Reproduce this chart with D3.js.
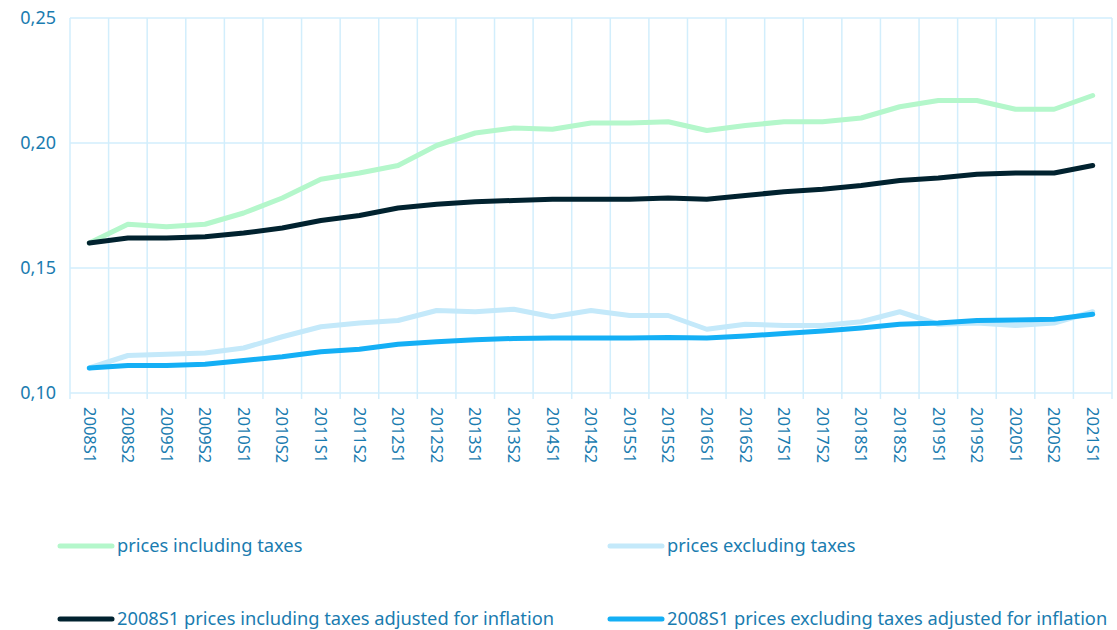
<!DOCTYPE html>
<html>
<head>
<meta charset="utf-8">
<script src="https://cdn.jsdelivr.net/npm/d3@7"></script>
<style>
  body { margin: 0; background: #fff; }
  svg { display: block; }
  text { font-family: "Noto Sans", sans-serif; fill: #1a7cb0; }
</style>
</head>
<body>
<svg id="chart" width="1117" height="630"></svg>
<script>
const categories = ["2008S1","2008S2","2009S1","2009S2","2010S1","2010S2","2011S1","2011S2","2012S1","2012S2","2013S1","2013S2","2014S1","2014S2","2015S1","2015S2","2016S1","2016S2","2017S1","2017S2","2018S1","2018S2","2019S1","2019S2","2020S1","2020S2","2021S1"];

const pricesInclTaxes = [0.160,0.1675,0.1665,0.1675,0.172,0.178,0.1855,0.188,0.191,0.199,0.204,0.206,0.2055,0.208,0.208,0.2085,0.205,0.207,0.2085,0.2085,0.210,0.2145,0.217,0.217,0.2135,0.2135,0.219];
const pricesExclTaxes = [0.110,0.115,0.1155,0.116,0.118,0.1225,0.1265,0.128,0.129,0.133,0.1325,0.1335,0.1305,0.133,0.131,0.131,0.1255,0.1275,0.127,0.127,0.1285,0.1325,0.1275,0.128,0.127,0.128,0.1325];
const inclAdjusted = [0.160,0.162,0.162,0.1625,0.164,0.166,0.169,0.171,0.174,0.1755,0.1765,0.177,0.1775,0.1775,0.1775,0.178,0.1775,0.179,0.1805,0.1815,0.183,0.185,0.186,0.1875,0.188,0.188,0.191];
const exclAdjusted = [0.110,0.111,0.111,0.1115,0.113,0.1145,0.1165,0.1175,0.1195,0.1205,0.1213,0.1218,0.122,0.122,0.122,0.1222,0.122,0.1228,0.1238,0.1248,0.126,0.1275,0.128,0.129,0.1292,0.1295,0.1315];

const yTicks = [0.10, 0.15, 0.20, 0.25];

const seriesNames = ["prices including taxes","prices excluding taxes","2008S1 prices including taxes adjusted for inflation","2008S1 prices excluding taxes adjusted for inflation"];
const seriesColors = ["#b4f7cb","#c4e9fa","#01222f","#14aff5"];
const seriesValues = [pricesInclTaxes, pricesExclTaxes, inclAdjusted, exclAdjusted];

const svg = d3.select("#chart");
const mLeft = 70, mRight = 1112, mTop = 18, mBottom = 393;

const x = d3.scaleBand().domain(categories).range([mLeft, mRight]);
const y = d3.scaleLinear().domain([0.10, 0.25]).range([mBottom, mTop]);
const grid = "#d2eefc";

// horizontal gridlines
svg.append("g").selectAll("line").data(yTicks).join("line")
  .attr("x1", mLeft).attr("x2", mRight)
  .attr("y1", d => y(d)).attr("y2", d => y(d))
  .attr("stroke", grid).attr("stroke-width", 1.5);

// vertical gridlines (category boundaries), extending as ticks below axis
const bounds = categories.map(c => x(c)).concat([mRight]);
svg.append("g").selectAll("line").data(bounds).join("line")
  .attr("x1", d => d).attr("x2", d => d)
  .attr("y1", mTop).attr("y2", mBottom + 6)
  .attr("stroke", grid).attr("stroke-width", 1.5);

// y labels
const fmt = d => d3.format(".2f")(d).replace(".", ",");
svg.append("g").selectAll("text").data(yTicks).join("text")
  .attr("x", 56).attr("y", d => y(d)).attr("dy", "0.35em")
  .attr("text-anchor", "end").attr("font-size", 18)
  .text(fmt);

// x labels rotated
svg.append("g").selectAll("text").data(categories).join("text")
  .attr("transform", d => `translate(${x(d) + x.bandwidth()/2},407) rotate(90)`)
  .attr("dy", "0.35em").attr("font-size", 16.5)
  .text(d => d);

// lines
const line = d3.line()
  .x((d, i) => x(categories[i]) + x.bandwidth()/2)
  .y(d => y(d));
seriesValues.forEach((vals, i) => {
  svg.append("path").datum(vals)
    .attr("d", line)
    .attr("fill", "none")
    .attr("stroke", seriesColors[i])
    .attr("stroke-width", 5)
    .attr("stroke-linejoin", "round")
    .attr("stroke-linecap", "round");
});

// legend
const legendPos = [[58,546],[608,546],[58,619],[608,619]];
seriesNames.forEach((name, i) => {
  const [lx, ly] = legendPos[i];
  const g = svg.append("g");
  g.append("line").attr("x1", lx + 2).attr("x2", lx + 54)
    .attr("y1", ly).attr("y2", ly)
    .attr("stroke", seriesColors[i]).attr("stroke-width", 5)
    .attr("stroke-linecap", "round");
  g.append("text").attr("x", lx + 59).attr("y", ly).attr("dy", "0.35em")
    .attr("font-size", 18.3).text(name);
});
</script>
</body>
</html>
